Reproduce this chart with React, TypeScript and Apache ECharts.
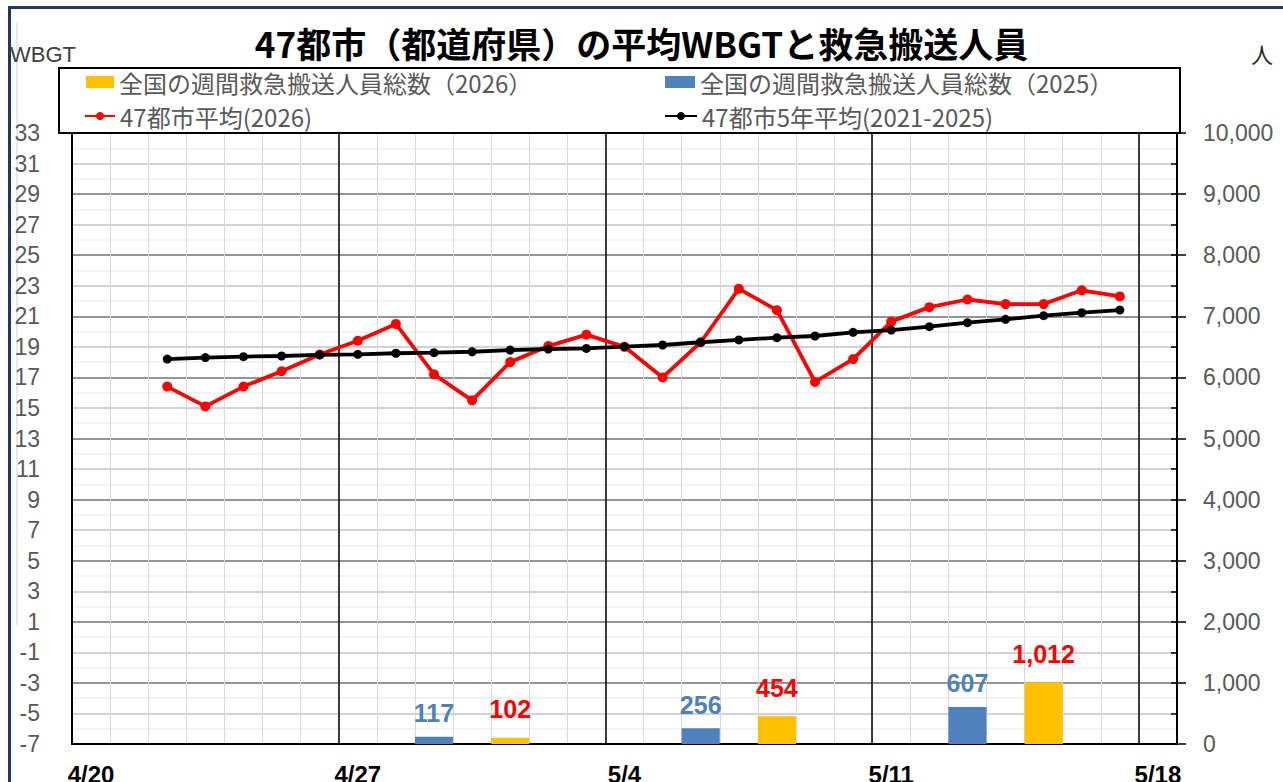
import React, { useEffect, useRef } from "react";
import * as echarts from "echarts";

const dates = [
  "4/20", "4/21", "4/22", "4/23", "4/24", "4/25", "4/26",
  "4/27", "4/28", "4/29", "4/30", "5/1", "5/2", "5/3",
  "5/4", "5/5", "5/6", "5/7", "5/8", "5/9", "5/10",
  "5/11", "5/12", "5/13", "5/14", "5/15", "5/16", "5/17",
  "5/18",
];

const wbgt2026 = [
  null, null, 16.4, 15.1, 16.4, 17.4, 18.5,
  19.4, 20.5, 17.2, 15.5, 18.0, 19.05, 19.8,
  19.0, 17.0, 19.3, 22.8, 21.4, 16.7, 18.2,
  20.65, 21.6, 22.1, 21.8, 21.8, 22.7, 22.3,
  null,
];

const wbgt5yr = [
  null, null, 18.2, 18.3, 18.36, 18.4, 18.47,
  18.51, 18.58, 18.62, 18.68, 18.79, 18.86, 18.9,
  19.01, 19.12, 19.3, 19.45, 19.6, 19.71, 19.95,
  20.1, 20.32, 20.58, 20.8, 21.04, 21.24, 21.41,
  null,
];

const transport2026 = [
  null, null, null, null, null, null, null,
  null, null, null, null, 102, null, null,
  null, null, null, null, 454, null, null,
  null, null, null, null, 1012, null, null,
  null,
];

const transport2025 = [
  null, null, null, null, null, null, null,
  null, null, 117, null, null, null, null,
  null, null, 256, null, null, null, null,
  null, null, 607, null, null, null, null,
  null,
];

const NAME_Y26 = "全国の週間救急搬送人員総数（2026）";
const NAME_Y25 = "全国の週間救急搬送人員総数（2025）";
const NAME_RED = "47都市平均(2026)";
const NAME_BLK = "47都市5年平均(2021-2025)";

const CJK = '"Noto Sans CJK JP", "Noto Sans", sans-serif';
const NUM = '"Liberation Sans", Arial, "Noto Sans CJK JP", sans-serif';

export default function App() {
  const ref = useRef<HTMLDivElement>(null);

  useEffect(() => {
    if (!ref.current) return;
    const chart = echarts.init(ref.current, null, { renderer: "svg" });

    const legendText = { fontSize: 24, color: "#595959", fontFamily: CJK };
    const fmt = (v: number) => v.toLocaleString("en-US");

    chart.setOption({
      animation: false,
      backgroundColor: "#ffffff",
      title: {
        text: "47都市（都道府県）の平均WBGTと救急搬送人員",
        left: "center",
        top: 17,
        textStyle: { fontSize: 35, fontWeight: "bold", color: "#000", fontFamily: CJK, lineHeight: 40 },
      },
      graphic: [
        {
          type: "rect",
          z: -10,
          shape: { x: 9.5, y: 7.5, width: 1400, height: 900 },
          style: { fill: "none", stroke: "#1F3864", lineWidth: 3 },
        },
        {
          type: "line",
          z: -10,
          shape: { x1: 17, y1: 22, x2: 17, y2: 625 },
          style: { stroke: "#d4d4d4", lineWidth: 1 },
        },
        {
          type: "rect",
          z: 1,
          shape: { x: 59, y: 68, width: 1121, height: 65 },
          style: { fill: "#fff", stroke: "#000", lineWidth: 2 },
        },
        {
          type: "text",
          x: 10,
          y: 54,
          style: { text: "WBGT", fontSize: 22, fill: "#404040", fontFamily: NUM, verticalAlign: "middle" },
        },
        {
          type: "text",
          x: 1251,
          y: 53,
          style: { text: "人", fontSize: 22, fill: "#262626", fontFamily: CJK, verticalAlign: "middle" },
        },
      ],
      legend: [
        {
          data: [{ name: NAME_Y26, icon: "rect" }],
          left: 86, top: 70, padding: 0, itemWidth: 28, itemHeight: 12, z: 5,
          textStyle: legendText,
        },
        {
          data: [{ name: NAME_Y25, icon: "rect" }],
          left: 665, top: 70, padding: 0, itemWidth: 30, itemHeight: 12, z: 5,
          textStyle: legendText,
        },
        {
          data: [NAME_RED],
          left: 84, top: 104, padding: 0, itemWidth: 30, itemHeight: 10, z: 5,
          textStyle: legendText,
        },
        {
          data: [NAME_BLK],
          left: 664, top: 104, padding: 0, itemWidth: 32, itemHeight: 10, z: 5,
          textStyle: legendText,
        },
      ],
      grid: {
        left: 72, right: 106, top: 133, bottom: 38,
        containLabel: false, outerBoundsMode: "none",
      },
      xAxis: [
        {
          type: "category",
          data: dates,
          boundaryGap: true,
          position: "bottom",
          axisLine: { show: true, onZero: false, lineStyle: { color: "#000", width: 2 } },
          axisTick: { show: false },
          axisLabel: {
            interval: (i: number) => i % 7 === 0,
            fontSize: 24, fontWeight: "bold", color: "#000", margin: 18, fontFamily: NUM,
          },
          splitLine: { show: true, interval: 0, lineStyle: { color: "#d9d9d9", width: 1 } },
        },
        {
          type: "category",
          data: dates,
          boundaryGap: true,
          position: "bottom",
          axisLine: { show: false, onZero: false },
          axisTick: { show: false },
          axisLabel: { show: false },
          splitLine: {
            show: true,
            interval: (i: number) => i % 7 === 0,
            lineStyle: { color: "#000", width: 1.5 },
          },
        },
      ],
      yAxis: [
        {
          type: "value",
          position: "left",
          min: -7, max: 33, interval: 2,
          axisLine: { show: true, onZero: false, lineStyle: { color: "#000", width: 2 } },
          axisTick: { show: false },
          axisLabel: { fontSize: 23, color: "#595959", margin: 32, fontFamily: NUM },
          splitLine: { show: true, lineStyle: { color: "#c4c4c4", width: 1.5 } },
          minorTick: { show: false, splitNumber: 2 },
          minorSplitLine: { show: true, lineStyle: { color: "#efefef", width: 1.5 } },
        },
        {
          type: "value",
          position: "right",
          min: 0, max: 10000, interval: 1000,
          axisLine: { show: true, onZero: false, lineStyle: { color: "#000", width: 2 } },
          axisTick: { show: true, length: 9, lineStyle: { color: "#000", width: 1.5 } },
          axisLabel: { fontSize: 23, color: "#595959", margin: 26, fontFamily: NUM, formatter: fmt },
          splitLine: { show: true, lineStyle: { color: "#7f7f7f", width: 1.5 } },
        },
        {
          type: "value",
          position: "right",
          min: 0, max: 10000, interval: 500,
          axisLine: { show: false, onZero: false },
          axisTick: { show: true, inside: true, length: 6, lineStyle: { color: "#000", width: 1.5 } },
          axisLabel: { show: false },
          splitLine: { show: false },
        },
      ],
      series: [
        {
          name: NAME_Y26,
          type: "bar",
          xAxisIndex: 0,
          yAxisIndex: 1,
          data: transport2026,
          barWidth: "100%",
          barGap: "-100%",
          itemStyle: { color: "#FFC000" },
          label: {
            show: true, position: "top", distance: 16,
            color: "#FF0000", fontWeight: "bold", fontSize: 25, fontFamily: NUM,
            formatter: (p: any) => fmt(p.value),
          },
          z: 3,
        },
        {
          name: NAME_Y25,
          type: "bar",
          xAxisIndex: 0,
          yAxisIndex: 1,
          data: transport2025,
          barWidth: "100%",
          barGap: "-100%",
          itemStyle: { color: "#4F81BD" },
          label: {
            show: true, position: "top", distance: 11,
            color: "#4F81BD", fontWeight: "bold", fontSize: 25, fontFamily: NUM,
            formatter: (p: any) => fmt(p.value),
          },
          z: 3,
        },
        {
          name: NAME_RED,
          type: "line",
          xAxisIndex: 0,
          yAxisIndex: 0,
          data: wbgt2026,
          symbol: "circle",
          symbolSize: 10,
          itemStyle: { color: "#FF0000" },
          lineStyle: { color: "#FF0000", width: 3.8 },
          z: 4,
        },
        {
          name: NAME_BLK,
          type: "line",
          xAxisIndex: 0,
          yAxisIndex: 0,
          data: wbgt5yr,
          symbol: "circle",
          symbolSize: 9,
          itemStyle: { color: "#000" },
          lineStyle: { color: "#000", width: 3.8 },
          z: 5,
        },
      ],
    });

    return () => chart.dispose();
  }, []);

  return (
    <div
      ref={ref}
      style={{ position: "fixed", left: 0, top: 0, width: 1283, height: 782 }}
    />
  );
}
